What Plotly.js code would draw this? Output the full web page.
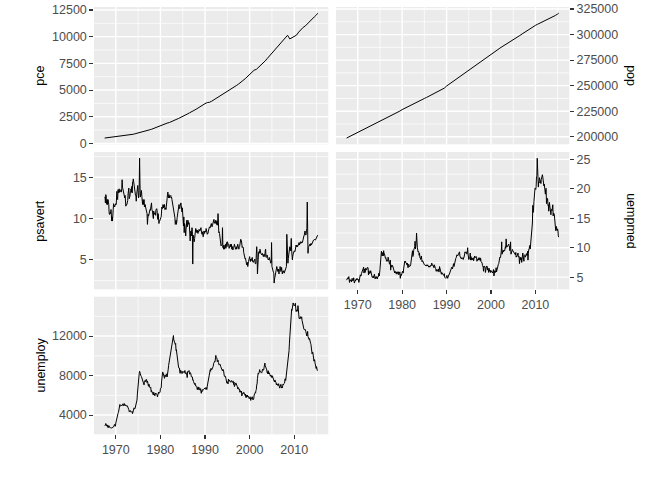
<!DOCTYPE html>
<html>
<head>
<meta charset="utf-8">
<script src="https://cdn.plot.ly/plotly-3.0.1.min.js"></script>
<style>
  html, body { margin: 0; padding: 0; background: #ffffff; }
  #chart { width: 672px; height: 480px; }
</style>
</head>
<body>
<div id="chart"></div>
<script>
// US economic time series, monthly from July 1967 to April 2015.
const firstMonth = '1967-07';
const lastMonth = '2015-04';

// Personal savings rate (%), monthly.
const psavert = [
  12.6, 12.6, 11.9, 12.9, 12.8, 11.8,
  11.7, 12.3, 11.7, 12.3, 12.0, 11.7, 10.7, 10.5, 10.6, 10.8, 10.6, 11.1,
  10.3, 9.7, 10.2, 9.7, 10.1, 11.1, 11.8, 11.5, 11.6, 11.4, 11.6, 11.8,
  11.8, 11.7, 12.4, 13.3, 12.4, 12.3, 13.5, 13.4, 13.1, 13.6, 13.2, 13.3,
  13.3, 13.3, 13.5, 13.2, 13.6, 14.7, 13.8, 13.6, 13.3, 13.3, 13.1, 13.0,
  12.5, 12.8, 11.8, 11.5, 11.7, 11.7, 11.7, 12.0, 12.2, 13.0, 13.6, 13.7,
  12.4, 12.5, 12.7, 13.2, 13.2, 13.6, 13.2, 13.9, 13.1, 14.4, 14.4, 14.8,
  14.3, 14.2, 13.4, 13.1, 12.8, 12.8, 12.8, 12.1, 12.9, 13.4, 13.8, 14.0,
  13.2, 12.5, 12.7, 14.2, 17.3, 14.3, 12.6, 13.0, 13.0, 13.4, 12.7, 12.0,
  11.7, 12.3, 12.2, 11.7, 12.3, 11.4, 11.7, 11.7, 11.4, 11.1, 11.4, 10.6,
  10.6, 9.3, 10.5, 10.5, 10.3, 10.6, 10.5, 10.9, 11.1, 11.0, 11.2, 11.4,
  11.9, 11.1, 11.0, 10.8, 10.3, 10.0, 10.9, 10.5, 10.6, 10.7, 10.5, 10.4,
  11.1, 11.1, 11.2, 11.0, 10.3, 9.9, 10.6, 9.7, 9.4, 9.7, 9.7, 10.1,
  9.9, 10.1, 10.2, 11.3, 11.4, 11.2, 11.3, 11.7, 11.3, 11.6, 11.4, 11.7,
  11.1, 11.2, 11.3, 11.1, 11.5, 11.2, 12.4, 12.9, 13.2, 12.7, 12.5, 12.9,
  12.6, 12.5, 12.7, 12.8, 12.8, 12.5, 12.6, 12.3, 12.0, 11.6, 11.3, 11.5,
  11.2, 11.0, 10.5, 10.1, 9.3, 9.4, 9.8, 9.3, 9.6, 10.1, 10.5, 10.9,
  11.1, 11.4, 11.7, 11.3, 11.2, 11.5, 11.8, 11.9, 11.6, 11.2, 10.8, 11.3,
  10.4, 9.6, 9.1, 10.2, 8.3, 9.4, 9.1, 8.5, 7.9, 8.7, 9.0, 9.8,
  9.0, 9.4, 9.8, 9.6, 9.3, 9.5, 9.1, 8.3, 7.3, 8.2, 8.5, 7.9,
  8.8, 8.9, 8.4, 4.5, 8.0, 7.6, 7.4, 7.2, 7.6, 8.3, 8.3, 8.8,
  8.7, 8.4, 8.3, 8.6, 8.3, 8.2, 8.5, 8.4, 8.7, 8.5, 8.5, 8.6,
  8.7, 8.9, 8.5, 8.1, 8.1, 8.4, 8.2, 7.8, 8.0, 8.5, 8.2, 8.2,
  8.5, 8.4, 8.5, 8.8, 8.3, 8.4, 8.1, 8.2, 8.2, 8.5, 8.7, 8.9,
  9.0, 8.9, 8.9, 9.3, 9.3, 9.4, 9.1, 9.0, 9.2, 9.5, 9.6, 9.9,
  9.9, 9.5, 9.6, 9.4, 9.7, 9.8, 9.5, 9.3, 9.7, 9.2, 9.6, 10.6,
  8.6, 8.3, 8.4, 8.2, 7.6, 7.4, 7.3, 6.7, 6.8, 6.8, 6.9, 8.9,
  6.5, 6.7, 6.3, 6.8, 6.3, 6.5, 6.5, 6.9, 6.4, 6.8, 7.1, 6.6,
  7.2, 7.1, 7.0, 6.7, 6.7, 6.4, 6.7, 6.6, 6.9, 6.6, 6.6, 6.9,
  6.3, 6.6, 6.6, 6.2, 6.5, 6.6, 6.6, 6.9, 6.5, 6.3, 6.3, 6.3,
  6.6, 6.3, 6.4, 6.7, 6.9, 6.7, 6.6, 6.3, 6.5, 6.6, 6.9, 7.2,
  7.5, 7.4, 7.3, 6.8, 6.5, 6.6, 6.5, 6.5, 5.9, 5.6, 5.8, 5.5,
  5.1, 5.2, 5.0, 4.6, 4.4, 4.5, 4.7, 4.2, 4.5, 4.8, 4.9, 5.2,
  5.4, 5.0, 4.8, 5.1, 4.9, 5.0, 5.2, 5.3, 4.8, 4.9, 4.7, 4.9,
  4.9, 5.0, 5.1, 4.6, 4.5, 4.6, 5.7, 6.6, 5.8, 3.3, 4.8, 5.2,
  5.9, 6.0, 5.8, 6.1, 6.3, 6.1, 5.8, 5.6, 5.7, 5.6, 5.8, 5.5,
  5.6, 5.4, 5.6, 5.7, 5.5, 5.4, 6.1, 6.3, 5.4, 5.3, 5.4, 5.6,
  5.2, 5.2, 5.0, 5.1, 5.0, 5.3, 5.1, 5.2, 4.8, 4.6, 4.7, 7.1,
  4.2, 3.9, 3.8, 3.6, 3.5, 3.4, 2.2, 2.7, 2.9, 3.3, 3.4, 3.3,
  3.8, 4.2, 4.0, 3.7, 3.6, 3.9, 3.5, 3.3, 3.8, 3.8, 4.2, 3.9,
  3.6, 3.7, 4.1, 3.6, 3.3, 3.6, 3.5, 3.7, 3.7, 3.4, 3.5, 3.7,
  3.9, 3.8, 4.1, 4.2, 8.1, 6.5, 5.0, 4.6, 5.2, 5.7, 6.1, 6.3,
  6.6, 6.5, 6.1, 6.6, 7.6, 6.2, 5.6, 5.0, 5.4, 5.7, 5.8, 5.8,
  6.1, 6.0, 6.0, 6.4, 6.7, 6.8, 6.6, 6.8, 6.7, 6.6, 6.7, 7.0,
  7.0, 7.1, 6.8, 6.9, 7.1, 7.2, 7.0, 7.1, 7.0, 7.2, 7.1, 7.4,
  7.8, 7.9, 7.9, 8.0, 8.2, 8.5, 8.2, 8.0, 8.1, 8.6, 8.8, 12.0,
  6.3, 5.8, 6.5, 6.6, 6.8, 6.6, 6.9, 6.7, 6.9, 7.0, 6.8, 6.9,
  7.1, 7.3, 7.3, 7.3, 7.4, 7.4, 7.5, 7.5, 7.4, 7.4, 7.5, 7.6,
  7.6, 7.6, 7.8, 8.0
];

// Median duration of unemployment (weeks), monthly.
const uempmed = [
  4.5, 4.7, 4.6, 4.9, 4.7, 4.8,
  5.1, 4.5, 4.1, 4.6, 4.4, 4.4, 4.5, 4.2, 4.6, 4.8, 4.4, 4.4,
  4.4, 4.9, 4.0, 4.0, 4.2, 4.4, 4.4, 4.4, 4.7, 4.5, 4.8, 4.6,
  4.6, 4.5, 4.6, 4.1, 4.7, 4.9, 5.1, 5.4, 5.2, 5.2, 5.6, 5.9,
  6.2, 6.3, 6.4, 6.5, 6.7, 5.7, 6.2, 6.4, 5.8, 6.5, 6.4, 6.2,
  6.2, 6.6, 6.6, 6.7, 6.6, 5.4, 6.1, 6.0, 5.6, 5.7, 5.7, 6.1,
  5.7, 5.2, 5.5, 5.0, 4.9, 5.0, 5.2, 4.9, 5.4, 5.5, 5.1, 4.7,
  5.0, 5.1, 4.8, 5.0, 5.1, 4.7, 5.0, 5.1, 5.1, 5.7, 5.2, 5.6,
  6.3, 7.1, 7.2, 8.7, 9.4, 8.8, 8.6, 9.2, 9.2, 8.6, 9.5, 9.0,
  9.0, 8.2, 8.7, 8.2, 8.3, 7.8, 7.7, 7.9, 7.8, 7.7, 8.4, 8.0,
  7.5, 7.2, 7.2, 7.3, 7.9, 6.2, 7.1, 7.0, 6.7, 6.9, 7.0, 6.8,
  6.5, 6.7, 6.2, 6.1, 5.7, 6.0, 5.8, 5.8, 5.6, 5.9, 5.5, 5.6,
  5.9, 5.9, 5.9, 5.4, 5.6, 5.6, 5.9, 4.8, 5.5, 5.5, 5.3, 5.7,
  5.7, 6.0, 5.8, 5.7, 6.4, 7.0, 7.5, 7.7, 7.5, 7.7, 7.5, 7.4,
  7.1, 7.1, 7.4, 6.9, 6.6, 7.1, 7.2, 6.8, 6.8, 6.9, 6.9, 7.1,
  7.5, 7.7, 8.1, 8.5, 9.5, 8.5, 8.7, 9.5, 9.7, 10.0, 10.2, 11.1,
  9.8, 10.4, 10.9, 12.5, 11.3, 10.1, 9.3, 9.3, 9.4, 9.3, 8.7, 9.1,
  8.3, 8.3, 8.0, 8.5, 8.6, 8.0, 7.6, 7.8, 7.7, 7.4, 7.3, 7.4,
  7.1, 7.1, 7.0, 7.0, 7.0, 6.9, 7.1, 6.9, 6.9, 7.1, 7.0, 6.8,
  6.7, 6.9, 6.8, 6.7, 6.8, 7.0, 6.9, 7.1, 7.4, 7.0, 7.1, 7.1,
  6.9, 6.6, 6.6, 7.1, 6.6, 6.5, 6.5, 6.4, 6.0, 6.3, 6.2, 6.0,
  6.2, 6.3, 6.4, 5.9, 5.9, 6.8, 6.4, 6.0, 6.3, 5.6, 5.5, 5.8,
  5.6, 5.4, 5.4, 5.4, 5.3, 5.4, 5.6, 5.0, 4.9, 4.9, 4.8, 4.9,
  5.1, 5.3, 5.1, 4.8, 5.2, 5.2, 5.4, 5.4, 5.6, 5.8, 5.7, 5.9,
  6.0, 6.2, 6.7, 6.6, 6.4, 6.9, 7.0, 7.3, 6.8, 7.2, 7.5, 7.8,
  8.1, 8.2, 8.3, 8.5, 8.8, 8.7, 8.6, 8.8, 8.6, 9.0, 9.0, 9.3,
  8.6, 8.5, 8.5, 8.4, 8.1, 8.3, 8.2, 8.2, 8.3, 8.0, 8.3, 8.3,
  8.6, 9.2, 9.3, 9.1, 9.2, 9.3, 9.0, 8.9, 9.2, 10.0, 9.0, 8.7,
  8.0, 8.1, 8.3, 8.3, 9.1, 7.9, 8.5, 8.3, 7.9, 8.2, 8.0, 8.3,
  8.3, 7.8, 8.3, 8.6, 8.6, 8.3, 8.3, 8.4, 8.5, 8.4, 7.7, 7.8,
  7.8, 8.1, 7.9, 8.3, 8.0, 8.0, 8.3, 7.8, 8.2, 7.7, 7.6, 7.5,
  7.4, 7.0, 6.8, 6.7, 6.0, 6.9, 6.7, 6.8, 6.7, 5.8, 6.6, 6.8,
  6.9, 6.8, 6.8, 6.2, 6.5, 6.3, 5.8, 6.5, 6.0, 6.1, 6.2, 5.8,
  5.8, 6.1, 6.0, 6.1, 5.8, 5.7, 6.0, 6.3, 5.2, 6.1, 6.1, 6.0,
  5.8, 6.1, 6.6, 5.9, 6.3, 6.0, 6.8, 6.9, 7.2, 7.3, 7.7, 8.2,
  8.4, 8.3, 8.4, 8.9, 9.5, 11.0, 8.9, 9.0, 9.5, 9.6, 9.3, 9.6,
  9.6, 9.5, 9.7, 10.2, 9.9, 11.5, 10.3, 10.1, 10.2, 10.4, 10.3, 10.4,
  10.6, 10.2, 10.2, 9.5, 9.9, 11.0, 8.9, 9.2, 9.6, 9.5, 9.7, 9.5,
  9.4, 9.2, 9.3, 9.0, 9.1, 9.0, 8.8, 9.2, 8.4, 8.6, 8.5, 8.7,
  8.6, 9.1, 8.7, 8.4, 8.5, 7.3, 8.0, 8.4, 8.0, 7.9, 8.3, 7.5,
  8.3, 8.5, 9.1, 8.6, 8.2, 7.7, 8.7, 8.8, 8.7, 8.4, 8.6, 8.4,
  9.0, 8.7, 8.7, 9.4, 7.9, 9.0, 9.7, 9.7, 10.2, 10.4, 9.8, 10.5,
  10.7, 11.7, 12.3, 13.1, 14.2, 17.2, 16.0, 16.3, 17.8, 18.9, 19.8, 20.1,
  20.0, 19.9, 20.4, 22.1, 22.3, 25.2, 22.3, 21.0, 20.3, 21.2, 21.0, 21.9,
  21.5, 21.1, 21.5, 20.9, 21.6, 22.4, 22.0, 22.4, 22.0, 20.6, 20.8, 20.5,
  20.8, 19.7, 19.2, 19.1, 19.9, 20.1, 17.5, 18.3, 18.4, 18.3, 17.2, 17.3,
  16.2, 17.5, 17.7, 17.1, 16.7, 16.2, 15.6, 16.5, 16.5, 16.3, 17.1, 17.3,
  15.4, 15.9, 15.8, 15.7, 14.6, 13.8, 13.1, 12.9, 13.4, 13.6, 13.0, 12.9,
  13.2, 12.9, 12.0, 11.8
];

// Number of unemployed (thousands), monthly.
const unemploy = [
  2944, 2945, 2958, 3143, 3066, 3018,
  2878, 3001, 2877, 2709, 2740, 2938, 2883, 2768, 2686, 2689, 2715, 2685,
  2718, 2692, 2712, 2758, 2713, 2816, 2868, 2856, 3040, 3049, 2856, 2884,
  3201, 3453, 3635, 3797, 3919, 4071, 4175, 4256, 4456, 4591, 4898, 5076,
  4986, 4903, 4987, 4959, 4996, 4949, 5035, 5134, 5042, 4954, 5161, 5154,
  5019, 4928, 5038, 4959, 4922, 4923, 4913, 4939, 4849, 4875, 4602, 4543,
  4326, 4452, 4394, 4459, 4329, 4363, 4305, 4305, 4350, 4144, 4396, 4489,
  4644, 4731, 4634, 4618, 4705, 4927, 5063, 5022, 5437, 5523, 6140, 6636,
  7501, 7520, 7978, 8210, 8433, 8220, 8127, 7928, 7923, 7897, 7794, 7744,
  7534, 7326, 7230, 7330, 7053, 7322, 7490, 7518, 7380, 7430, 7620, 7545,
  7280, 7443, 7307, 7059, 6911, 7134, 6829, 6925, 6751, 6763, 6815, 6386,
  6489, 6318, 6337, 6180, 6127, 6028, 6309, 6080, 6125, 5947, 6077, 6228,
  6109, 6173, 6109, 6069, 5840, 5959, 5996, 6320, 6190, 6296, 6238, 6325,
  6683, 6702, 6729, 7358, 7984, 8098, 8363, 8281, 8021, 8088, 8023, 7718,
  8071, 8051, 7982, 7869, 8174, 8098, 7863, 8036, 8230, 8646, 9029, 9267,
  9397, 9705, 9895, 10244, 10335, 10538, 10849, 10881, 11217, 11529, 11938, 12051,
  11534, 11545, 11408, 11268, 11154, 11246, 10548, 10623, 10282, 9887, 9499, 9331,
  9008, 8791, 8746, 8762, 8456, 8226, 8537, 8519, 8367, 8381, 8198, 8358,
  8423, 8321, 8339, 8395, 8302, 8460, 8513, 8196, 8248, 8298, 8128, 8138,
  7795, 8402, 8383, 8364, 8439, 8508, 8319, 8135, 8310, 8243, 8159, 7883,
  7892, 7865, 7862, 7542, 7574, 7398, 7268, 7261, 7102, 7227, 7035, 6936,
  6953, 6929, 6876, 6601, 6779, 6546, 6605, 6843, 6604, 6568, 6537, 6518,
  6682, 6359, 6205, 6468, 6375, 6577, 6495, 6511, 6590, 6630, 6725, 6667,
  6752, 6651, 6598, 6797, 6742, 6590, 6922, 7188, 7368, 7459, 7764, 7901,
  8015, 8265, 8586, 8439, 8736, 8692, 8586, 8666, 8722, 8842, 8931, 9198,
  9283, 9454, 9460, 9415, 9744, 10040, 9850, 9787, 9781, 9398, 9565, 9557,
  9325, 9183, 9056, 9110, 9149, 9121, 8930, 8763, 8714, 8750, 8542, 8477,
  8630, 8583, 8470, 8331, 7915, 7927, 7946, 7933, 7734, 7632, 7375, 7230,
  7375, 7187, 7153, 7645, 7430, 7427, 7527, 7484, 7478, 7328, 7426, 7423,
  7491, 7313, 7318, 7415, 7423, 7095, 7337, 6882, 6979, 7031, 7236, 7253,
  7158, 7102, 7000, 6873, 6655, 6799, 6655, 6608, 6656, 6454, 6308, 6476,
  6368, 6306, 6422, 5941, 6047, 6212, 6259, 6179, 6300, 6280, 6100, 6032,
  5976, 6111, 5783, 6004, 5796, 5951, 6025, 5838, 5915, 5778, 5716, 5653,
  5708, 5858, 5733, 5481, 5758, 5651, 5747, 5853, 5625, 5534, 5639, 5634,
  6023, 6089, 6141, 6271, 6226, 6484, 6583, 7042, 7142, 7694, 8003, 8258,
  8182, 8215, 8304, 8599, 8399, 8393, 8390, 8304, 8251, 8307, 8520, 8640,
  8520, 8618, 8588, 8842, 8957, 9266, 9011, 8896, 8921, 8732, 8576, 8317,
  8370, 8167, 8491, 8170, 8212, 8286, 8136, 7990, 7927, 8061, 7932, 7934,
  7784, 7980, 7737, 7672, 7651, 7524, 7406, 7345, 7553, 7453, 7566, 7279,
  7064, 7184, 7072, 7120, 6980, 7001, 7175, 7091, 6847, 6727, 6872, 6762,
  7116, 6927, 6731, 6850, 6766, 6979, 7149, 7067, 7170, 7237, 7240, 7645,
  7685, 7497, 7822, 7637, 8395, 8575, 8937, 9438, 9494, 10074, 10538, 11286,
  12058, 12898, 13426, 13853, 14499, 14707, 14601, 14814, 15009, 15352, 15219, 15098,
  15046, 15113, 15202, 15325, 14849, 14474, 14512, 14648, 14579, 14516, 15081, 14348,
  14013, 13820, 13737, 13957, 13855, 13962, 13763, 13818, 13948, 13594, 13302, 13093,
  12797, 12813, 12713, 12646, 12660, 12692, 12656, 12471, 12115, 12124, 12005, 12298,
  12471, 11950, 11689, 11760, 11654, 11751, 11335, 11279, 11270, 11136, 10787, 10404,
  10202, 10349, 10380, 9702, 9859, 9460, 9608, 9599, 9262, 8990, 9090, 8717,
  8903, 8610, 8504, 8526
];

// Personal consumption expenditures (billions of $), every January and July, plus April 2015.
const pce = [
  507,
  532, 563, 584, 604, 620, 643, 670, 695, 720, 757,
  802, 830, 868, 930, 976, 1040, 1095, 1145, 1215, 1270,
  1330, 1420, 1490, 1590, 1697, 1735, 1830, 1905, 1960, 2030,
  2110, 2240, 2330, 2420, 2512, 2640, 2750, 2865, 2950, 3090,
  3206, 3353, 3469, 3609, 3731, 3829, 3856, 3959, 4089, 4212,
  4300, 4454, 4567, 4713, 4851, 4985, 5106, 5271, 5418, 5557,
  5695, 5893, 6064, 6264, 6535, 6705, 6860, 6938, 7120, 7300,
  7480, 7730, 7980, 8210, 8450, 8760, 9000, 9200, 9440, 9650,
  9880, 10130, 9790, 9900, 10002, 10140, 10430, 10690, 10870, 11010,
  11200, 11390, 11600, 11850, 12050, 12194
];

// Total population (thousands), every January and July, plus April 2015.
const pop = [
  198712,
  199808, 200706, 201760, 202680, 203849, 205052, 206466, 207661, 208917, 209896,
  210985, 211921, 212785, 213794, 214931, 216063, 217095, 218143, 219179, 220333,
  221477, 222680, 223865, 225140, 226554, 227726, 228937, 229966, 231157, 232191,
  233322, 234307, 235385, 236348, 237468, 238466, 239638, 240651, 241857, 242839,
  243981, 245021, 246224, 247600, 249623, 251190, 252750, 254300, 255900, 257500,
  259050, 260600, 262100, 263600, 265100, 266600, 268100, 269700, 271300, 272900,
  274500, 276100, 277700, 279300, 280976, 282400, 283900, 285300, 286700, 288100,
  289400, 290700, 292000, 293400, 294800, 296200, 297600, 299100, 300600, 302100,
  303600, 305100, 306500, 307800, 309000, 310100, 311100, 312200, 313300, 314400,
  315500, 316500, 317600, 318700, 320100, 320887
];

// Monthly date labels from firstMonth to lastMonth.
function monthList(from, to) {
  let [y, m] = from.split('-').map(Number);
  const [ye, me] = to.split('-').map(Number);
  const out = [];
  while (y < ye || (y === ye && m <= me)) {
    out.push(y + '-' + String(m).padStart(2, '0') + '-01');
    m += 1;
    if (m > 12) { m = 1; y += 1; }
  }
  return out;
}
const months = monthList(firstMonth, lastMonth);
// Half-yearly dates (Jan/Jul) plus the final month.
const halfYears = months.filter((d, i) => i % 6 === 0);
halfYears.push(months[months.length - 1]);

// Scale helpers: 5% padding on each side, as in ggplot's default expansion.
function padRange(values) {
  const lo = Math.min(...values), hi = Math.max(...values);
  const pad = (hi - lo) * 0.05;
  return [lo - pad, hi + pad];
}
function dateStr(ms) {
  return new Date(ms).toISOString().replace('T', ' ').slice(0, 19);
}
const t0 = Date.parse(months[0] + 'T00:00:00Z');
const t1 = Date.parse(months[months.length - 1] + 'T00:00:00Z');
const tPad = (t1 - t0) * 0.05;
const xRange = [dateStr(t0 - tPad), dateStr(t1 + tPad)];

const FONT = '"Liberation Sans", Arial, Helvetica, sans-serif';
const TICK_FONT = { family: FONT, size: 12.5, color: '#4D4D4D' };
const GRID = '#FFFFFF';
const MAJOR_W = 1.4, MINOR_W = 0.7;

// Panel boxes in pixels (left, right, top, bottom) on the 672 x 480 canvas.
const W = 672, H = 480;
const colX = [[94, 328.3], [336, 569.3]];
const rowY = [[7, 144.3], [152, 289.3], [296.7, 434.3]];
const xDom = c => [colX[c][0] / W, colX[c][1] / W];
const yDom = r => [1 - rowY[r][1] / H, 1 - rowY[r][0] / H];

// Decade ticks; the vertical grid itself is drawn with shapes further down.
function xAxis(col, anchor, labelled) {
  return {
    type: 'date', domain: xDom(col), anchor: anchor, range: xRange,
    tick0: '1970-01-01', dtick: 'M120', tickformat: '%Y',
    showticklabels: labelled, ticks: labelled ? 'outside' : '',
    ticklen: 3.7, tickwidth: 1.1, tickcolor: '#333333',
    showgrid: false,
    zeroline: false, showline: false, tickfont: TICK_FONT, fixedrange: true
  };
}
function yAxis(row, col, anchor, range, step) {
  return {
    domain: yDom(row), anchor: anchor, range: range,
    side: col === 0 ? 'left' : 'right',
    tick0: 0, dtick: step, tickformat: 'd',
    ticks: 'outside', ticklen: 3.7, tickwidth: 1.1, tickcolor: '#333333',
    showgrid: false,
    zeroline: false, showline: false, tickfont: TICK_FONT, fixedrange: true
  };
}

function series(x, y, n) {
  return {
    type: 'scatter', mode: 'lines', x: x, y: y,
    xaxis: 'x' + n, yaxis: 'y' + n,
    line: { color: '#000000', width: 1 },
    hoverinfo: 'skip', showlegend: false
  };
}

const data = [
  series(halfYears, pce, ''),
  series(halfYears, pop, 2),
  series(months, psavert, 3),
  series(months, uempmed, 4),
  series(months, unemploy, 5)
];

// Panels: id suffix, row, column, y values, y step, x labels shown.
const panels = [
  { id: '', row: 0, col: 0, values: pce, step: 2500, xLabels: false },
  { id: '2', row: 0, col: 1, values: pop, step: 25000, xLabels: false },
  { id: '3', row: 1, col: 0, values: psavert, step: 5, xLabels: false },
  { id: '4', row: 1, col: 1, values: uempmed, step: 5, xLabels: true },
  { id: '5', row: 2, col: 0, values: unemploy, step: 4000, xLabels: true }
];

const layout = {
  width: W, height: H,
  margin: { l: 0, r: 0, t: 0, b: 0, pad: 0 },
  paper_bgcolor: '#FFFFFF', plot_bgcolor: '#EBEBEB',
  showlegend: false, hovermode: false,
  shapes: [], annotations: []
};

// Vertical grid: decades thick, half-decades thin.
const gridYears = [
  { year: '1965', w: MINOR_W }, { year: '1970', w: MAJOR_W },
  { year: '1975', w: MINOR_W }, { year: '1980', w: MAJOR_W },
  { year: '1985', w: MINOR_W }, { year: '1990', w: MAJOR_W },
  { year: '1995', w: MINOR_W }, { year: '2000', w: MAJOR_W },
  { year: '2005', w: MINOR_W }, { year: '2010', w: MAJOR_W },
  { year: '2015', w: MINOR_W }
];
panels.forEach(p => {
  const yr = padRange(p.values);
  layout['xaxis' + p.id] = xAxis(p.col, 'y' + p.id, p.xLabels);
  layout['yaxis' + p.id] = yAxis(p.row, p.col, 'x' + p.id, yr, p.step);
  const xa = 'x' + p.id, ya = 'y' + p.id;
  gridYears.forEach(g => {
    const d = g.year + '-01-01';
    if (d > xRange[0] && d < xRange[1]) {
      layout.shapes.push({
        type: 'line', layer: 'below', xref: xa, yref: ya + ' domain',
        x0: d, x1: d, y0: 0, y1: 1, line: { color: GRID, width: g.w }
      });
    }
  });
  // horizontal grid: labelled values thick, half-steps thin
  const half = p.step / 2;
  for (let k = Math.ceil(yr[0] / half); k * half < yr[1]; k++) {
    const v = k * half;
    layout.shapes.push({
      type: 'line', layer: 'below', xref: xa + ' domain', yref: ya,
      x0: 0, x1: 1, y0: v, y1: v,
      line: { color: GRID, width: k % 2 === 0 ? MAJOR_W : MINOR_W }
    });
  }
});

function yTitle(text, row, col) {
  return {
    text: text, xref: 'paper', yref: 'paper', showarrow: false,
    x: (col === 0 ? 40 : 631.5) / W,
    y: 1 - (rowY[row][0] + rowY[row][1]) / 2 / H,
    xanchor: 'center', yanchor: 'middle',
    textangle: col === 0 ? -90 : 90,
    font: { family: FONT, size: 12.5, color: '#000000' }
  };
}
layout.annotations = [
  yTitle('pce', 0, 0),
  yTitle('pop', 0, 1),
  yTitle('psavert', 1, 0),
  yTitle('uempmed', 1, 1),
  yTitle('unemploy', 2, 0)
];

Plotly.newPlot('chart', data, layout, { displayModeBar: false, staticPlot: true });
</script>
</body>
</html>
